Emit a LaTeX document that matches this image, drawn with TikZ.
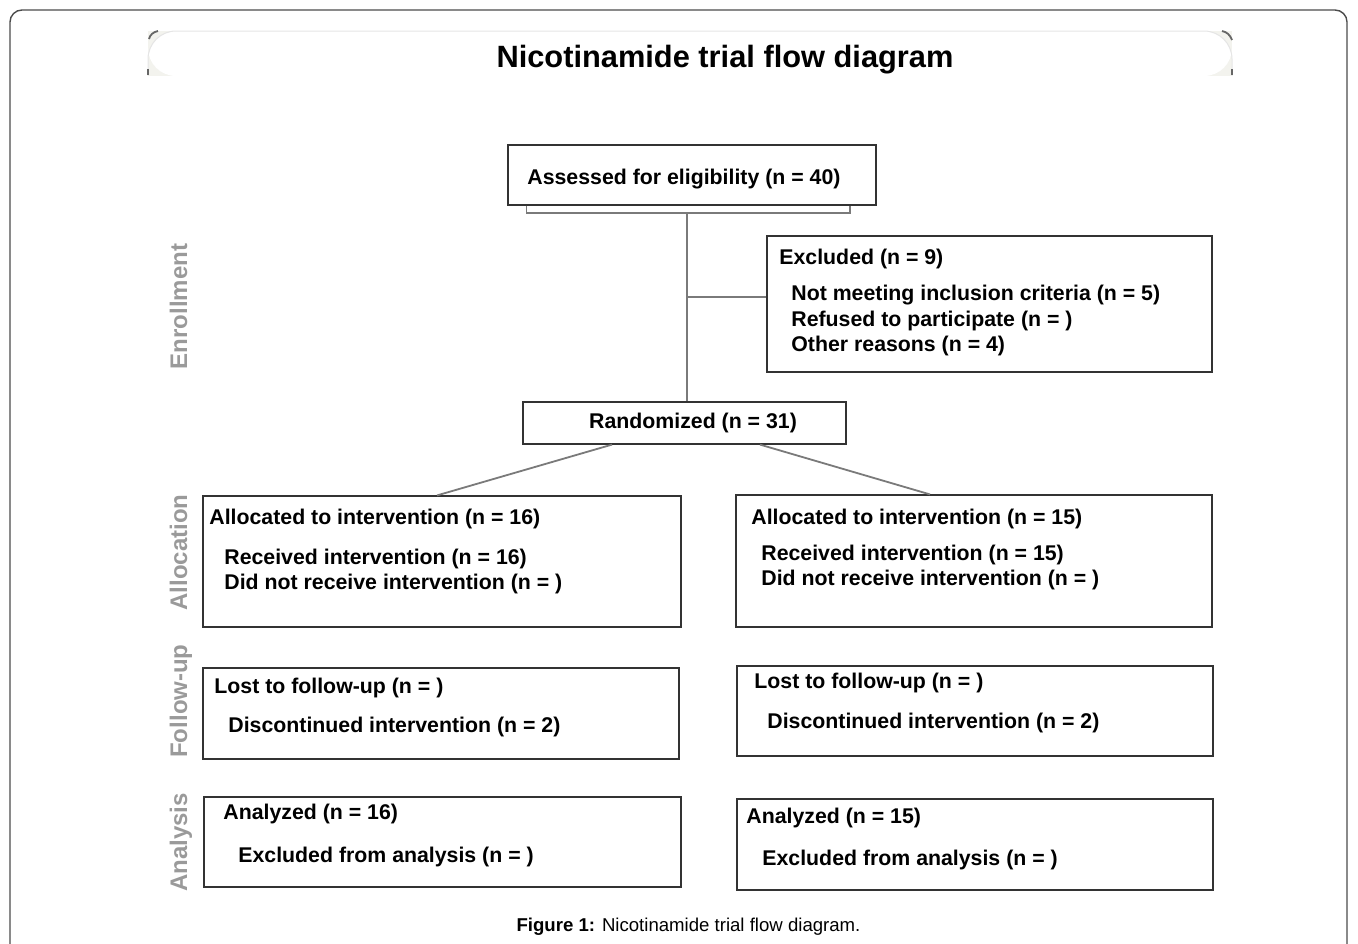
\documentclass[tikz,border=0pt]{standalone}
\usepackage{fontspec}
\setmainfont{Liberation Sans}
\definecolor{boxline}{HTML}{333333}
\definecolor{conn}{HTML}{7A7A7A}
\definecolor{sidegray}{HTML}{9A9A9A}
\definecolor{panelfill}{HTML}{F3F3EE}
\begin{document}
\begin{tikzpicture}[x=0.5pt,y=-0.5pt,
  box/.style={draw=boxline,line width=0.6pt,rectangle,inner sep=0pt,fill=white},
  txt/.style={inner sep=0pt,anchor=base west,font=\fontsize{10.65}{12}\selectfont\bfseries},
  side/.style={inner sep=0pt,anchor=base,rotate=90,text=sidegray,font=\fontsize{12}{14}\selectfont\bfseries},
  connector/.style={draw=conn,line width=0.9pt},
  trunkline/.style={draw=conn,line width=1.1pt},
  cornermark/.style={draw=black!60,line width=0.9pt}]
\useasboundingbox (0,0) rectangle (1358,943);
% outer frame
\draw[draw=black!70,line width=0.7pt,rounded corners=6pt] (10,980) -- (10,10) -- (1347,10) -- (1347,980);
% title panel
\fill[panelfill] (148,31) rectangle (1232,76);
\fill[white,rounded corners=14pt] (148,76) -- (148,31) -- (1232,31) -- (1232,76) -- cycle;
\draw[draw=black!10,line width=0.5pt,rounded corners=14pt] (148,76) -- (148,31) -- (1232,31) -- (1232,76);
\draw[cornermark] (149,39) .. controls (150,35) and (153,32) .. (158,31);
\draw[cornermark] (1222,31) .. controls (1227,32) and (1230,35) .. (1232,40);
\draw[cornermark] (148,69) -- (148,75);
\draw[cornermark] (1232,69) -- (1232,75);
\node[inner sep=0pt,anchor=base,font=\fontsize{15.4}{18}\selectfont\bfseries] (title) at (725,67) {Nicotinamide trial flow diagram};
% boxes
\node[box,minimum width=184pt,minimum height=30pt] (assess) at (692,175) {};
\node[box,minimum width=222.5pt,minimum height=68pt] (excl) at (989.5,304) {};
\node[box,minimum width=161.5pt,minimum height=21pt] (rand) at (684.5,423) {};
\node[box,minimum width=239pt,minimum height=65.5pt] (allocL) at (442,561.5) {};
\node[box,minimum width=238pt,minimum height=66pt] (allocR) at (974,561) {};
\node[box,minimum width=238pt,minimum height=45.5pt] (fuL) at (441,713.5) {};
\node[box,minimum width=238pt,minimum height=45pt] (fuR) at (975,711) {};
\node[box,minimum width=238.5pt,minimum height=45pt] (anL) at (442.5,842) {};
\node[box,minimum width=238pt,minimum height=45.5pt] (anR) at (975,844.5) {};
% connectors
\draw[connector] ([xshift=9.5pt]assess.south west) |- ([yshift=-3.5pt]assess.south) -| ([xshift=-13.5pt]assess.south east);
\coordinate (trunk) at (687,212);
\coordinate (junc) at (687,297);
\draw[trunkline] (trunk) -- (trunk |- rand.north);
\draw[trunkline] (junc) -- (junc -| excl.west);
\draw[connector] ([xshift=-36.25pt]rand.south) -- ([xshift=-2.5pt]allocL.north);
\draw[connector] ([xshift=37.75pt]rand.south) -- ([xshift=-22pt]allocR.north);
% texts
\node[txt] (t1) at (527,184.5) {Assessed for eligibility (n = 40)};
\node[txt] (t2) at (779,264.5) {Excluded (n = 9)};
\node[txt] (t3) at (791,300.5) {Not meeting inclusion criteria (n = 5)};
\node[txt] (t4) at (791,326.5) {Refused to participate (n = )};
\node[txt] (t5) at (791,351.5) {Other reasons (n = 4)};
\node[txt,anchor=base] (t6) at (693,428.5) {Randomized (n = 31)};
\node[txt] (t7) at (209,524.5) {Allocated to intervention (n = 16)};
\node[txt] (t8) at (224,564.5) {Received intervention (n = 16)};
\node[txt] (t9) at (224,589.5) {Did not receive intervention (n = )};
\node[txt] (t10) at (751,524.5) {Allocated to intervention (n = 15)};
\node[txt] (t11) at (761,560.5) {Received intervention (n = 15)};
\node[txt] (t12) at (761,585.5) {Did not receive intervention (n = )};
\node[txt] (t13) at (214,693.5) {Lost to follow-up (n = )};
\node[txt] (t14) at (228,732.5) {Discontinued intervention (n = 2)};
\node[txt] (t15) at (754,688.5) {Lost to follow-up (n = )};
\node[txt] (t16) at (767,728.5) {Discontinued intervention (n = 2)};
\node[txt] (t17) at (223,819.5) {Analyzed (n = 16)};
\node[txt] (t18) at (238,862.5) {Excluded from analysis (n = )};
\node[txt] (t19) at (746,823.5) {Analyzed (n = 15)};
\node[txt] (t20) at (762,865.5) {Excluded from analysis (n = )};
% side labels
\node[side] (s1) at (187,306.5) {Enrollment};
\node[side] (s2) at (187,552.5) {Allocation};
\node[side] (s3) at (187,701) {Follow-up};
\node[side] (s4) at (187,842.5) {Analysis};
% caption
\node[inner sep=0pt,anchor=base,font=\fontsize{9.3}{11}\selectfont] (cap) at (688.5,931) {\textbf{Figure 1:} Nicotinamide trial flow diagram.};
\end{tikzpicture}
\end{document}
